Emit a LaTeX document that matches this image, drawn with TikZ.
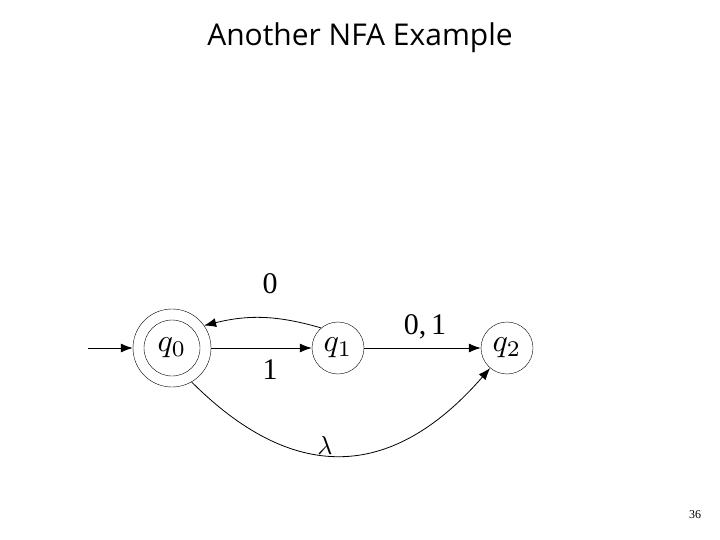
\documentclass[tikz,border=0pt]{standalone}
\usepackage{fontspec}
\setmainfont{Liberation Serif}
\newfontfamily\titlefont{Open Sans}
\usetikzlibrary{arrows.meta}
\begin{document}
\begin{tikzpicture}[x=1pt,y=-1pt,
  st/.style={circle,draw,thin,minimum size=52pt,inner sep=0pt},
  edge/.style={-{Latex[length=12pt,width=9pt]},thick},
  lbl/.style={font=\fontsize{30}{32}\selectfont}]
\useasboundingbox[fill=white] (0,0) rectangle (720,540);
\node[font=\titlefont\fontsize{30}{34}\selectfont] (title) at (360,38) {Another NFA Example};
\node[st,minimum size=56pt] (q0) at (172,348) {\scalebox{3.2}{$q_0$}};
\node[circle,draw,thin,minimum size=78pt] (q0o) at (172,348) {};
\node[st] (q1) at (338,348) {\scalebox{3.2}{$q_1$}};
\node[st] (q2) at (507,348) {\scalebox{3.2}{$q_2$}};
\coordinate (in) at (88,348);
\draw[edge] (in) -- (q0o);
\draw[edge] (q0o) -- (q1);
\draw[edge] (q1) -- (q2);
\draw[edge] (q1.130) to[bend right=15] (q0o.35);
\draw[edge] (q0o.-60) .. controls +(100,100) and +(-100,115) .. (q2.-130);
\node[lbl] (l0) at (270,284) {0};
\node[lbl] (l1) at (270,370) {1};
\node[lbl] (l01) at (425,327) {0,\,1};
\node (lam) at (325,445) {\scalebox{2.6}{$\lambda$}};
\node[font=\fontsize{12}{14}\selectfont] (pg) at (695,515) {36};
\end{tikzpicture}
\end{document}
